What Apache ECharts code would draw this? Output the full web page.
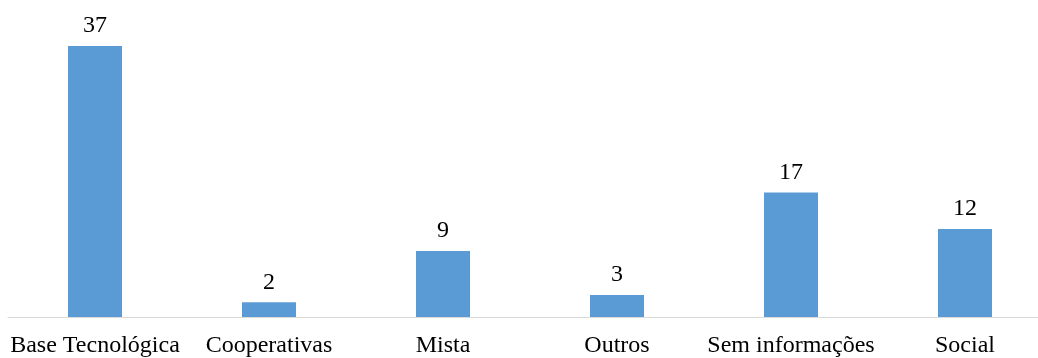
<!DOCTYPE html>
<html>
<head>
<meta charset="utf-8">
<script src="https://cdn.jsdelivr.net/npm/echarts@6/dist/echarts.min.js"></script>
<style>
  html, body { margin: 0; padding: 0; background: #fff; overflow: hidden; }
  #chart { width: 1052px; height: 358px; }
</style>
</head>
<body>
<div id="chart"></div>
<script>
// Categories and counts
const categories = ['Base Tecnológica', 'Cooperativas', 'Mista', 'Outros', 'Sem informações', 'Social'];
const counts = [37, 2, 9, 3, 17, 12];

const chart = echarts.init(document.getElementById('chart'));
chart.setOption({
  animation: false,
  grid: { left: 8, top: 24, right: 0, height: 294, containLabel: false },
  xAxis: {
    type: 'category',
    data: categories,
    axisLine: { show: true, lineStyle: { color: '#D9D9D9', width: 1 } },
    axisTick: { show: false },
    axisLabel: {
      interval: 0,
      margin: 17,
      color: '#000',
      fontFamily: 'Liberation Serif',
      fontSize: 24
    }
  },
  yAxis: {
    type: 'value',
    min: 0,
    max: 40,
    show: false,
    splitLine: { show: false }
  },
  series: [{
    type: 'bar',
    data: counts,
    barWidth: 54,
    itemStyle: { color: '#5B9BD5' },
    label: {
      show: true,
      position: 'top',
      distance: 8,
      color: '#000',
      fontFamily: 'Liberation Serif',
      fontSize: 24
    }
  }]
});
</script>
</body>
</html>
